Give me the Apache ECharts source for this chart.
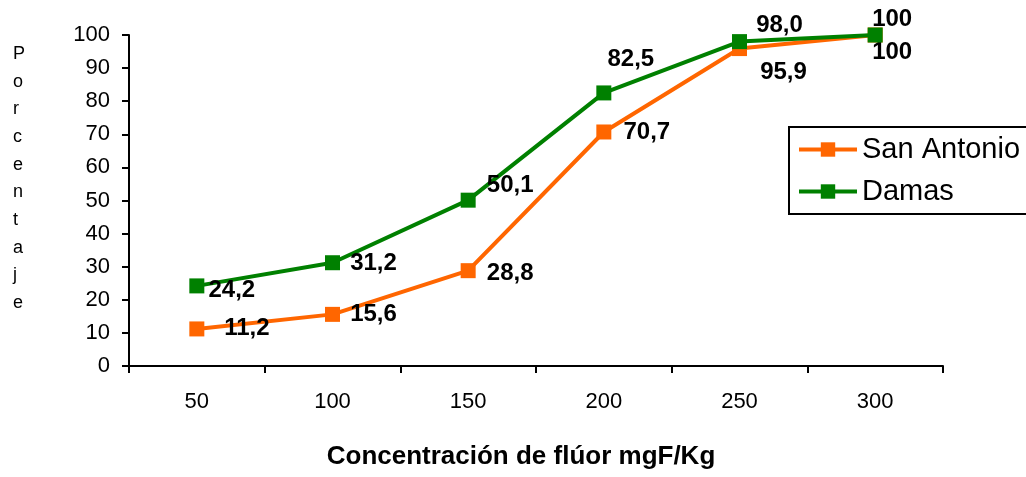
<!DOCTYPE html>
<html>
<head>
<meta charset="utf-8">
<script src="https://cdn.jsdelivr.net/npm/echarts@6/dist/echarts.min.js"></script>
<style>html,body{margin:0;padding:0;background:#fff}#c{width:1026px;height:477px}</style>
</head>
<body>
<div id="c"></div>
<script>
const categories = ['50', '100', '150', '200', '250', '300'];
const sanAntonio = [11.2, 15.6, 28.8, 70.7, 95.9, 100];
const damas = [24.2, 31.2, 50.1, 82.5, 98.0, 100];
const sanAntonioLabels = ['11,2', '15,6', '28,8', '70,7', '95,9', '100'];
const damasLabels = ['24,2', '31,2', '50,1', '82,5', '98,0', '100'];

const saOffsets = [[50, -1], [41, 0], [42, 3], [43, 0], [44, 24], [17, 17]];
const dmOffsets = [[35, 4], [41, 1], [42, -15], [27, -34], [40, -16], [17, -16]];

const FONT = 'Liberation Sans, Arial, sans-serif';

function mkData(vals, labels, offs) {
  return vals.map((v, i) => ({
    value: v,
    label: { show: true, position: 'inside', align: 'center', verticalAlign: 'middle',
      offset: offs[i], formatter: labels[i], fontFamily: FONT,
      fontWeight: 'bold', fontSize: 24, color: '#000' }
  }));
}

const chart = echarts.init(document.getElementById('c'), null, { renderer: 'canvas' });
chart.setOption({
  animation: false,
  backgroundColor: '#fff',
  grid: { left: 129, right: 83, top: 35, bottom: 111, containLabel: false },
  legend: {
    orient: 'vertical', left: 789, top: 127,
    borderColor: '#000', borderWidth: 2, padding: [8, 20, 8, 8],
    itemWidth: 58, itemHeight: 18, itemGap: 13,
    lineStyle: { width: 4 },
    textStyle: { fontFamily: FONT, fontSize: 29, color: '#000' },
    data: ['San Antonio', 'Damas']
  },
  xAxis: {
    type: 'category', data: categories, boundaryGap: true,
    axisLine: { lineStyle: { color: '#000', width: 2 } },
    axisTick: { show: true, length: 7, alignWithLabel: false, lineStyle: { color: '#000', width: 2 } },
    axisLabel: { margin: 25, fontFamily: FONT, fontSize: 22, color: '#000' },
    splitLine: { show: false }
  },
  yAxis: {
    type: 'value', min: 0, max: 100, interval: 10,
    axisLine: { show: true, lineStyle: { color: '#000', width: 2 } },
    axisTick: { show: true, length: 7, lineStyle: { color: '#000', width: 2 } },
    axisLabel: { margin: 19, fontFamily: FONT, fontSize: 22, color: '#000' },
    splitLine: { show: false }
  },
  graphic: [{
    type: 'text', left: 13, top: 40,
    style: { text: 'P\no\nr\nc\ne\nn\nt\na\nj\ne', fontFamily: FONT,
      fontSize: 18, lineHeight: 27.7, fill: '#000', align: 'center', width: 14 }
  }, {
    type: 'text', x: 521, y: 457,
    style: { text: 'Concentración de flúor mgF/Kg', fontFamily: FONT, fontWeight: 'bold',
      fontSize: 26, fill: '#000', align: 'center', verticalAlign: 'middle' }
  }],
  series: [
    { name: 'San Antonio', type: 'line', data: mkData(sanAntonio, sanAntonioLabels, saOffsets),
      symbol: 'rect', symbolSize: 15, color: '#FF6600',
      lineStyle: { width: 4, color: '#FF6600' }, itemStyle: { color: '#FF6600' }, z: 2 },
    { name: 'Damas', type: 'line', data: mkData(damas, damasLabels, dmOffsets),
      symbol: 'rect', symbolSize: 15, color: '#008000',
      lineStyle: { width: 4, color: '#008000' }, itemStyle: { color: '#008000' }, z: 3 }
  ]
});
</script>
</body>
</html>
